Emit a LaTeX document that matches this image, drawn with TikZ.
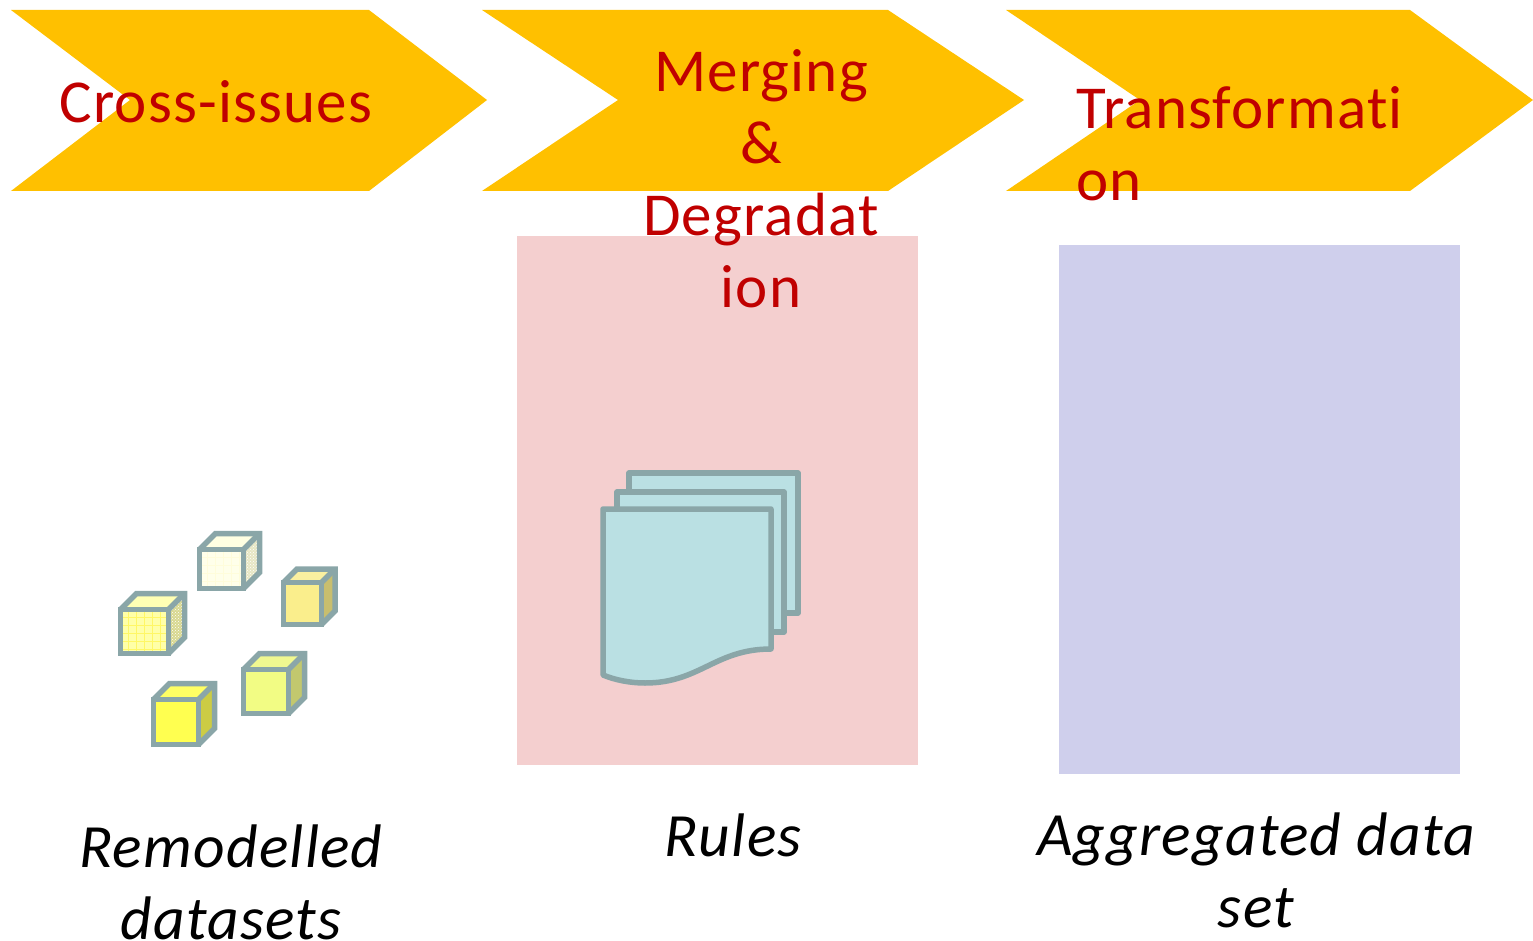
\documentclass[tikz,border=0pt]{standalone}
\usepackage{fontspec}
\setmainfont{Carlito}[LetterSpace=2,Ligatures=NoCommon]
\usetikzlibrary{patterns}
\definecolor{chevron}{HTML}{FFC000}
\definecolor{title}{HTML}{C00000}
\definecolor{rim}{HTML}{8AA6A8}
\definecolor{sheet}{HTML}{BAE0E3}
\definecolor{rulesbg}{HTML}{F4CFCF}
\definecolor{aggrbg}{HTML}{CFCFEC}
\tikzset{
  chevbox/.style={fill=chevron},
  steptitle/.style={text=title,font=\fontsize{61}{72}\selectfont,align=center,inner sep=0pt},
  caption/.style={text=black,font=\fontsize{61.5}{72}\selectfont\itshape,align=center,inner sep=0pt},
  rimline/.style={draw=rim,line width=5.5pt,line join=round},
  cubeline/.style={draw=rim,line width=5.5pt,line join=miter},
}
% x,y of front top left, front w/h, depth, then front/top/side colours
\newcommand{\cubeshape}[8]{
\definecolor{cubefront}{HTML}{#6}
\definecolor{cubetop}{HTML}{#7}
\definecolor{cubeside}{HTML}{#8}
\fill[cubefront](#1,#2)rectangle++(#3,#4);
\fill[cubetop](#1,#2)--++(#5,-#5)--++(#3,0)--++(-#5,#5)--cycle;
\fill[cubeside](#1+#3,#2)--++(#5,-#5)--++(0,#4)--++(-#5,#5)--cycle;
}
\newcommand{\cubeframe}[5]{
\draw[cubeline](#1,#2)rectangle++(#3,#4);
\draw[cubeline](#1,#2)--++(#5,-#5)--++(#3,0)--++(0,#4)--++(-#5,#5);
\draw[cubeline](#1+#3,#2)--++(#5,-#5);
}
\begin{document}
\begin{tikzpicture}[x=1pt,y=-1pt]
\useasboundingbox(0,0)rectangle(1533,941);
\fill[chevbox](11,10)--(369,10)--(487,100)--(369,191)--(11,191)--(130,100)--cycle;
\fill[chevbox](482,10)--(888,10)--(1024,100)--(888,191)--(482,191)--(618,100)--cycle;
\fill[chevbox](1006,10)--(1410,10)--(1533,100)--(1410,191)--(1006,191)--(1140,100)--cycle;
\fill[rulesbg](517,236)rectangle(918,765);
\fill[aggrbg](1059,245)rectangle(1460,774);
% cubes
\cubeshape{199.5}{549.5}{44}{39}{16}{FFFFEA}{FFFFE2}{E6E6C4}
\foreach \x in {8,16,...,40}{\draw[yellow!14!white,line width=0.8pt](199.5+\x,549.5)--++(0,39);}
\foreach \y in {8,16,...,32}{\draw[yellow!14!white,line width=0.8pt](199.5,549.5+\y)--++(44,0);}
\fill[pattern=crosshatch dots,pattern color=white](243.5,549.5)--++(16,-16)--++(0,39)--++(-16,16)--cycle;
\cubeframe{199.5}{549.5}{44}{39}{16}
\cubeshape{283.5}{582.5}{38}{42}{13.5}{FAEE8C}{FAF0A0}{C8BE6E}
\cubeframe{283.5}{582.5}{38}{42}{13.5}
\cubeshape{120.5}{609.5}{48}{44}{16}{FFFFA8}{FFFFB4}{D8D890}
\foreach \x in {8,16,...,40}{\draw[yellow!60!white,line width=0.8pt](120.5+\x,609.5)--++(0,44);}
\foreach \y in {8,16,...,40}{\draw[yellow!60!white,line width=0.8pt](120.5,609.5+\y)--++(48,0);}
\fill[pattern=crosshatch dots,pattern color=white](168.5,609.5)--++(16,-16)--++(0,44)--++(-16,16)--cycle;
\cubeframe{120.5}{609.5}{48}{44}{16}
\cubeshape{243.5}{669.5}{45}{44}{16}{F2FC84}{F0F890}{C2C86E}
\cubeframe{243.5}{669.5}{45}{44}{16}
\cubeshape{153.5}{699.5}{45}{45}{16}{FFFF50}{FFFF64}{CCCC44}
\cubeframe{153.5}{699.5}{45}{45}{16}
% sheets
\draw[rimline,fill=sheet](629,473)rectangle(798,613);
\draw[rimline,fill=sheet](617,492)rectangle(784,632);
\draw[rimline,fill=sheet](603,509)--(771,509)--(771,649).. controls (715,649) and (700,683) .. (645,683).. controls (630,683) and (615,680) .. (603,675)--cycle;
% labels
\node[steptitle](cross)at(216,102){Cross-issues};
\node[steptitle](merge)at(761,178.5){Merging\\\&\\Degradat\\ion};
\node[steptitle,align=left](trans)at(1239.5,144){Transformati\\on};
\node[caption](remod)at(231,882){Remodelled\\datasets};
\node[caption](rules)at(733,835){Rules};
\node[caption](aggr)at(1256,870){Aggregated data\\set};
\end{tikzpicture}
\end{document}
